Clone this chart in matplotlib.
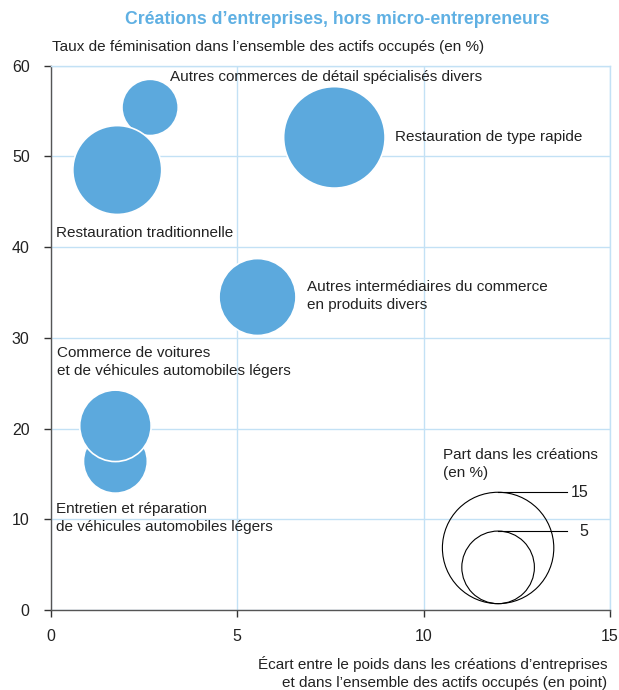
import matplotlib
matplotlib.use("Agg")
import matplotlib.pyplot as plt

# ---------------- data ----------------
labels = [
    "Autres commerces de détail spécialisés divers",
    "Restauration de type rapide",
    "Restauration traditionnelle",
    "Autres intermédiaires du commerce\nen produits divers",
    "Entretien et réparation\nde véhicules automobiles légers",
    "Commerce de voitures\net de véhicules automobiles légers",
]
x_ecart = [2.67, 7.61, 1.79, 5.55, 1.74, 1.74]
y_femin = [55.4, 52.1, 48.5, 34.5, 16.4, 20.3]
part_creations = [2.6, 11.8, 8.4, 5.8, 3.6, 4.8]
legend_values = [15, 5]
x_ticks = [0, 5, 10, 15]
y_ticks = [0, 10, 20, 30, 40, 50, 60]

title = "Créations d’entreprises, hors micro-entrepreneurs"
y_title = "Taux de féminisation dans l’ensemble des actifs occupés (en %)"
x_title = "Écart entre le poids dans les créations d’entreprises\net dans l’ensemble des actifs occupés (en point)"
legend_title = "Part dans les créations\n(en %)"

# ---------------- style ----------------
plt.rcParams["font.family"] = ["Liberation Sans", "DejaVu Sans"]

W, H, DPI = 619, 690, 100
BLUE = "#5ca9dd"
TITLE_BLUE = "#5fb0e3"
GRID = "#c3e1f5"
TXT = "#222222"
FS = 11

# radius (px) of the 15 % reference circle, power scale
R15 = 55.7
P = 0.39
def rad_px(v):
    return R15 * (v / 15.0) ** P

def s_of(v):
    d_pt = 2 * rad_px(v) * 72.0 / DPI
    return d_pt ** 2

fig = plt.figure(figsize=(W / DPI, H / DPI), dpi=DPI)
ax = fig.add_axes([50.5 / W, 1 - 610 / H, (610 - 50.5) / W, (610 - 65.7) / H])
ax.set_xlim(0, 15)
ax.set_ylim(0, 60)
ax.set_xticks(x_ticks)
ax.set_yticks(y_ticks)
ax.grid(True, color=GRID, lw=1.0, zorder=0)
ax.set_axisbelow(True)
for side in ["top", "right"]:
    ax.spines[side].set_color(GRID)
    ax.spines[side].set_linewidth(1.0)
for side in ["left", "bottom"]:
    ax.spines[side].set_color("#555555")
    ax.spines[side].set_linewidth(1.0)
ax.tick_params(direction="out", length=5, width=1, color="#333333",
               labelsize=FS + 0.5, labelcolor=TXT)
ax.tick_params(axis="x", pad=9)
ax.tick_params(axis="y", pad=10)

ax.scatter(x_ecart, y_femin, s=[s_of(v) for v in part_creations],
           color=BLUE, edgecolor="white", linewidth=1.2, zorder=3)

def fp(x, y):
    return (x / W, 1 - y / H)

txt_pos = [(170, 77), (395, 137), (56, 233), (307, 296), (56, 518), (57, 362)]
for lab, (px, py) in zip(labels, txt_pos):
    fig.text(*fp(px, py), lab, fontsize=FS, color=TXT, ha="left", va="center",
             linespacing=1.3)

fig.text(*fp(337, 20), title, fontsize=12.7, fontweight="bold", color=TITLE_BLUE,
         ha="center", va="center")
fig.text(*fp(52, 47), y_title, fontsize=FS, color=TXT, ha="left", va="center")
fig.text(*fp(607, 673), x_title, fontsize=FS, color=TXT, ha="right", va="center",
         linespacing=1.3, multialignment="right")
fig.text(*fp(443, 464), legend_title, fontsize=FS, color=TXT, ha="left", va="center",
         linespacing=1.3)

# ---- size legend: circles bottom-aligned ----
leg_x = 12.0
base_y = 0.7
fig.canvas.draw()
tr = ax.transData
inv = tr.inverted()
bx, by = tr.transform((leg_x, base_y))
for v in legend_values:
    r = rad_px(v)
    cx, cy = inv.transform((bx, by + r))
    ax.scatter([cx], [cy], s=s_of(v), facecolor="none", edgecolor="black",
               linewidth=0.8, zorder=4)
    tx, ty = inv.transform((bx, by + 2 * r))
    ex, _ = inv.transform((567, 0))
    ax.plot([tx, ex], [ty, ty], color="black", lw=0.8, zorder=4, clip_on=False)
    lx, _ = inv.transform((588, 0))
    ax.text(lx, ty, str(v), fontsize=FS + 0.5, color=TXT, ha="right", va="center")

fig.savefig("out.png", dpi=DPI)
